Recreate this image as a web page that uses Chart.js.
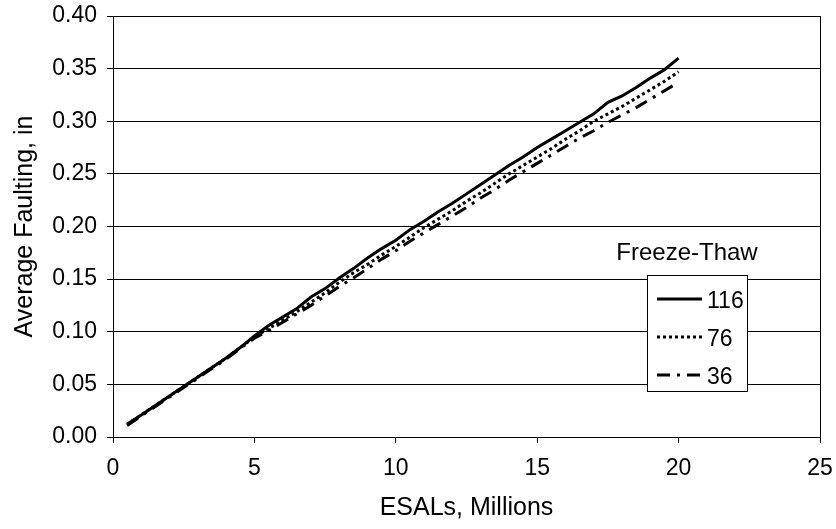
<!DOCTYPE html>
<html>
<head>
<meta charset="utf-8">
<script src="https://cdn.jsdelivr.net/npm/chart.js@4"></script>
<style>
  html, body { margin: 0; padding: 0; background: #fff; }
  #wrap { width: 836px; height: 529px; }
</style>
</head>
<body>
<div id="wrap"><canvas id="faultChart" width="836" height="529"></canvas></div>
<script>
// ESALs (millions) at each reading
const esals = [0.5, 1, 1.5, 2, 2.5, 3, 3.5, 4, 4.5, 5, 5.5, 6, 6.5, 7, 7.5, 8, 8.5, 9, 9.5, 10,
               10.5, 11, 11.5, 12, 12.5, 13, 13.5, 14, 14.5, 15, 15.5, 16, 16.5, 17, 17.5, 18, 18.5, 19, 19.5, 20];

// average faulting (in) for each freeze-thaw level
const ft116 = [0.012, 0.021, 0.030, 0.039, 0.048, 0.057, 0.066, 0.075, 0.085, 0.096,
               0.106, 0.114, 0.122, 0.133, 0.141, 0.151, 0.160, 0.170, 0.179, 0.187,
               0.197, 0.205, 0.214, 0.222, 0.231, 0.240, 0.249, 0.258, 0.266, 0.275,
               0.283, 0.291, 0.299, 0.307, 0.318, 0.324, 0.332, 0.341, 0.349, 0.360];
const ft76 = [0.012, 0.021, 0.030, 0.039, 0.048, 0.057, 0.066, 0.075, 0.085, 0.095,
              0.103, 0.111, 0.119, 0.128, 0.137, 0.147, 0.156, 0.164, 0.173, 0.181,
              0.190, 0.199, 0.207, 0.215, 0.224, 0.232, 0.241, 0.250, 0.258, 0.266,
              0.274, 0.283, 0.291, 0.300, 0.307, 0.314, 0.322, 0.330, 0.338, 0.347];
const ft36 = [0.011, 0.020, 0.029, 0.038, 0.047, 0.056, 0.065, 0.074, 0.084, 0.094,
              0.101, 0.109, 0.117, 0.125, 0.134, 0.143, 0.151, 0.160, 0.169, 0.177,
              0.186, 0.194, 0.202, 0.210, 0.218, 0.227, 0.235, 0.244, 0.252, 0.260,
              0.268, 0.276, 0.284, 0.291, 0.299, 0.306, 0.313, 0.321, 0.329, 0.337];

const seriesNames = ['116', '76', '36'];
const legendTitle = 'Freeze-Thaw';
const xTitle = 'ESALs, Millions';
const yTitle = 'Average Faulting, in';

const FONT = "'Liberation Sans', Arial, sans-serif";

function toPoints(xs, ys) {
    return xs.map((x, i) => ({ x: x, y: ys[i] }));
}

// legend drawn inside the plot, like the original
const boxLegend = {
    id: 'boxLegend',
    afterDraw(chart) {
        const ctx = chart.ctx;
        const left = 647, top = 275, w = 100, h = 116;
        ctx.save();
        ctx.fillStyle = '#000';
        ctx.font = '24px ' + FONT;
        ctx.textAlign = 'center';
        ctx.textBaseline = 'middle';
        ctx.fillText(legendTitle, left + 40, 253);

        ctx.fillStyle = '#fff';
        ctx.fillRect(left, top, w, h);
        ctx.strokeStyle = '#000';
        ctx.lineWidth = 1;
        ctx.strokeRect(left + 0.5, top + 0.5, w, h);

        ctx.font = '23px ' + FONT;
        chart.data.datasets.forEach((ds, i) => {
            const y = top + 24 + i * 38;
            ctx.beginPath();
            ctx.setLineDash(ds.borderDash || []);
            ctx.lineWidth = ds.borderWidth;
            ctx.strokeStyle = ds.borderColor;
            ctx.moveTo(left + 10, y);
            ctx.lineTo(left + 55, y);
            ctx.stroke();
            ctx.setLineDash([]);
            ctx.fillStyle = '#000';
            ctx.textAlign = 'left';
            ctx.fillText(ds.label, left + 60, y + 3);
        });
        ctx.restore();
    }
};

const ctx = document.getElementById('faultChart').getContext('2d');

new Chart(ctx, {
    type: 'line',
    data: {
        datasets: [
            { label: seriesNames[0], data: toPoints(esals, ft116), borderColor: '#000', borderWidth: 3, borderDash: [] },
            { label: seriesNames[1], data: toPoints(esals, ft76), borderColor: '#000', borderWidth: 3, borderDash: [3, 3] },
            { label: seriesNames[2], data: toPoints(esals, ft36), borderColor: '#000', borderWidth: 3, borderDash: [13, 7, 3, 7] }
        ]
    },
    options: {
        responsive: false,
        animation: false,
        layout: { padding: { top: 16, right: 16, left: 0, bottom: 0 } },
        elements: {
            point: { radius: 0 },
            line: { tension: 0, fill: false, borderCapStyle: 'butt' }
        },
        plugins: {
            legend: { display: false },
            tooltip: { enabled: false }
        },
        scales: {
            x: {
                type: 'linear',
                min: 0,
                max: 25,
                afterFit: (scale) => {
                    scale.height = 92;
                    scale.paddingLeft = 0;
                    scale.paddingRight = 0;
                },
                ticks: {
                    stepSize: 5,
                    color: '#000',
                    padding: 12,
                    font: { family: FONT, size: 23 }
                },
                grid: {
                    drawOnChartArea: true,
                    color: (c) => (c.tick && c.tick.value === 25 ? '#000' : 'rgba(0,0,0,0)'),
                    tickColor: '#000',
                    tickLength: 6
                },
                border: { color: '#000', width: 1 },
                title: {
                    display: true,
                    text: xTitle,
                    color: '#000',
                    font: { family: FONT, size: 25 },
                    padding: { top: 0, bottom: 6 }
                }
            },
            y: {
                min: 0,
                max: 0.4,
                afterFit: (scale) => {
                    scale.width = 113;
                    scale.paddingTop = 0;
                    scale.paddingBottom = 0;
                },
                ticks: {
                    stepSize: 0.05,
                    color: '#000',
                    padding: 10,
                    font: { family: FONT, size: 23 },
                    callback: (v) => v.toFixed(2)
                },
                grid: {
                    color: '#000',
                    tickColor: '#000',
                    tickLength: 6,
                    lineWidth: 1
                },
                border: { color: '#000', width: 1 },
                title: {
                    display: true,
                    text: yTitle,
                    color: '#000',
                    font: { family: FONT, size: 25 },
                    padding: { top: 10, bottom: 0 }
                }
            }
        }
    },
    plugins: [boxLegend]
});
</script>
</body>
</html>
